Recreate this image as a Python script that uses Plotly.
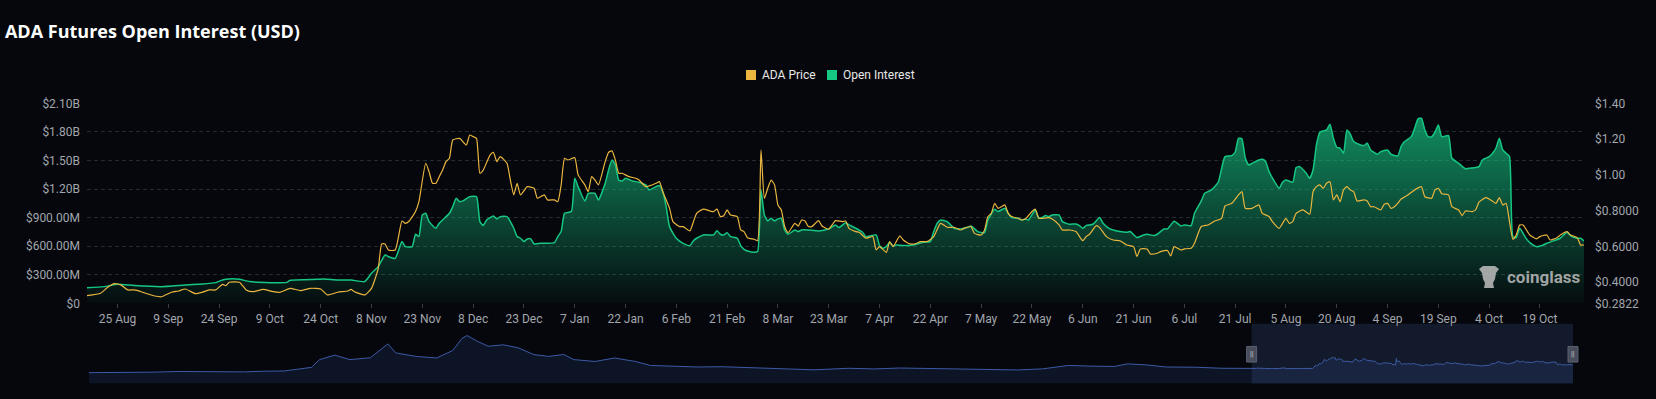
import plotly.graph_objects as go

# ---------------- data ----------------
price_dates = [
    "2024-08-16", "2024-08-20", "2024-08-22", "2024-08-24", "2024-08-26", "2024-08-28", "2024-08-30",
    "2024-09-01", "2024-09-03", "2024-09-05", "2024-09-07", "2024-09-10", "2024-09-12", "2024-09-14",
    "2024-09-17", "2024-09-19", "2024-09-21", "2024-09-23", "2024-09-25", "2024-09-26", "2024-09-27",
    "2024-09-30", "2024-10-02", "2024-10-04", "2024-10-07", "2024-10-10", "2024-10-12", "2024-10-15",
    "2024-10-18", "2024-10-21", "2024-10-24", "2024-10-26", "2024-10-29", "2024-11-01", "2024-11-02",
    "2024-11-03", "2024-11-06", "2024-11-08", "2024-11-10", "2024-11-11", "2024-11-12", "2024-11-13",
    "2024-11-15", "2024-11-17", "2024-11-18", "2024-11-19", "2024-11-21", "2024-11-22", "2024-11-24",
    "2024-11-25", "2024-11-26", "2024-11-27", "2024-11-28", "2024-11-29", "2024-11-30", "2024-12-01",
    "2024-12-02", "2024-12-04", "2024-12-06", "2024-12-07", "2024-12-08", "2024-12-09", "2024-12-10",
    "2024-12-11", "2024-12-13", "2024-12-14", "2024-12-15", "2024-12-16", "2024-12-18", "2024-12-19",
    "2024-12-20", "2024-12-21", "2024-12-22", "2024-12-24", "2024-12-26", "2024-12-27", "2024-12-29",
    "2024-12-30", "2025-01-01", "2025-01-02", "2025-01-03", "2025-01-04", "2025-01-05", "2025-01-07",
    "2025-01-08", "2025-01-10", "2025-01-11", "2025-01-12", "2025-01-13", "2025-01-14", "2025-01-16",
    "2025-01-17", "2025-01-18", "2025-01-19", "2025-01-20", "2025-01-21", "2025-01-23", "2025-01-25",
    "2025-01-26", "2025-01-28", "2025-01-31", "2025-02-01", "2025-02-02", "2025-02-04", "2025-02-05",
    "2025-02-07", "2025-02-08", "2025-02-10", "2025-02-11", "2025-02-12", "2025-02-14", "2025-02-16",
    "2025-02-17", "2025-02-18", "2025-02-19", "2025-02-20", "2025-02-21", "2025-02-22", "2025-02-24",
    "2025-02-25", "2025-02-26", "2025-02-27", "2025-03-01", "2025-03-02", "2025-03-03", "2025-03-04",
    "2025-03-05", "2025-03-06", "2025-03-07", "2025-03-08", "2025-03-09", "2025-03-10", "2025-03-11",
    "2025-03-13", "2025-03-14", "2025-03-15", "2025-03-16", "2025-03-17", "2025-03-18", "2025-03-20",
    "2025-03-21", "2025-03-23", "2025-03-24", "2025-03-25", "2025-03-27", "2025-03-28", "2025-03-29",
    "2025-03-31", "2025-04-01", "2025-04-03", "2025-04-05", "2025-04-06", "2025-04-07", "2025-04-09",
    "2025-04-10", "2025-04-11", "2025-04-13", "2025-04-14", "2025-04-16", "2025-04-18", "2025-04-19",
    "2025-04-21", "2025-04-23", "2025-04-25", "2025-04-27", "2025-04-29", "2025-05-01", "2025-05-02",
    "2025-05-04", "2025-05-05", "2025-05-07", "2025-05-08", "2025-05-09", "2025-05-10", "2025-05-11",
    "2025-05-12", "2025-05-13", "2025-05-14", "2025-05-15", "2025-05-16", "2025-05-18", "2025-05-19",
    "2025-05-20", "2025-05-22", "2025-05-23", "2025-05-24", "2025-05-25", "2025-05-27", "2025-05-28",
    "2025-05-30", "2025-05-31", "2025-06-02", "2025-06-04", "2025-06-06", "2025-06-07", "2025-06-08",
    "2025-06-10", "2025-06-11", "2025-06-13", "2025-06-15", "2025-06-17", "2025-06-19", "2025-06-21",
    "2025-06-22", "2025-06-23", "2025-06-25", "2025-06-26", "2025-06-28", "2025-06-29", "2025-07-01",
    "2025-07-02", "2025-07-03", "2025-07-05", "2025-07-06", "2025-07-08", "2025-07-09", "2025-07-11",
    "2025-07-13", "2025-07-15", "2025-07-17", "2025-07-18", "2025-07-20", "2025-07-22", "2025-07-23",
    "2025-07-24", "2025-07-26", "2025-07-28", "2025-07-29", "2025-07-31", "2025-08-01", "2025-08-03",
    "2025-08-04", "2025-08-05", "2025-08-06", "2025-08-07", "2025-08-08", "2025-08-10", "2025-08-12",
    "2025-08-13", "2025-08-14", "2025-08-15", "2025-08-16", "2025-08-17", "2025-08-18", "2025-08-19",
    "2025-08-20", "2025-08-21", "2025-08-22", "2025-08-23", "2025-08-24", "2025-08-25", "2025-08-26",
    "2025-08-28", "2025-08-29", "2025-08-30", "2025-08-31", "2025-09-02", "2025-09-03", "2025-09-04",
    "2025-09-05", "2025-09-06", "2025-09-07", "2025-09-08", "2025-09-10", "2025-09-12", "2025-09-14",
    "2025-09-15", "2025-09-17", "2025-09-18", "2025-09-19", "2025-09-20", "2025-09-22", "2025-09-23",
    "2025-09-25", "2025-09-26", "2025-09-27", "2025-09-29", "2025-09-30", "2025-10-01", "2025-10-03",
    "2025-10-04", "2025-10-06", "2025-10-07", "2025-10-08", "2025-10-09", "2025-10-10", "2025-10-11",
    "2025-10-12", "2025-10-13", "2025-10-14", "2025-10-16", "2025-10-18", "2025-10-19", "2025-10-21",
    "2025-10-22", "2025-10-24", "2025-10-25", "2025-10-27", "2025-10-28", "2025-10-30", "2025-10-31",
    "2025-11-01",
]
price_values = [
    0.325, 0.338, 0.370, 0.392, 0.385, 0.357, 0.357,
    0.347, 0.334, 0.323, 0.319, 0.344, 0.351, 0.362,
    0.336, 0.344, 0.357, 0.357, 0.388, 0.381, 0.400,
    0.400, 0.357, 0.347, 0.360, 0.347, 0.344, 0.366,
    0.353, 0.366, 0.362, 0.329, 0.344, 0.351, 0.360,
    0.347, 0.329, 0.366, 0.478, 0.614, 0.614, 0.580,
    0.580, 0.742, 0.729, 0.739, 0.795, 0.850, 1.065,
    1.018, 0.953, 0.953, 0.990, 1.027, 1.074, 1.093,
    1.195, 1.204, 1.167, 1.223, 1.214, 1.204, 1.009,
    1.027, 1.111, 1.126, 1.074, 1.102, 1.065, 0.971,
    0.888, 0.953, 0.888, 0.934, 0.925, 0.869, 0.888,
    0.860, 0.860, 0.850, 0.944, 1.093, 1.083, 1.096,
    1.000, 0.944, 0.906, 0.990, 0.971, 0.944, 1.074,
    1.126, 1.134, 1.083, 1.009, 1.009, 0.990, 0.981,
    0.971, 0.934, 0.953, 0.962, 0.906, 0.813, 0.739,
    0.711, 0.711, 0.687, 0.735, 0.785, 0.809, 0.798,
    0.795, 0.809, 0.767, 0.772, 0.804, 0.776, 0.767,
    0.692, 0.683, 0.649, 0.640, 0.632, 1.139, 0.869,
    0.925, 0.971, 0.944, 0.832, 0.804, 0.711, 0.677,
    0.729, 0.714, 0.748, 0.742, 0.711, 0.711, 0.744,
    0.714, 0.696, 0.720, 0.744, 0.739, 0.742, 0.701,
    0.683, 0.679, 0.646, 0.655, 0.580, 0.599, 0.567,
    0.627, 0.599, 0.659, 0.636, 0.614, 0.618, 0.627,
    0.627, 0.655, 0.729, 0.707, 0.707, 0.692, 0.701,
    0.711, 0.673, 0.664, 0.692, 0.767, 0.785, 0.841,
    0.813, 0.822, 0.832, 0.785, 0.767, 0.757, 0.748,
    0.753, 0.795, 0.808, 0.757, 0.757, 0.761, 0.753,
    0.720, 0.692, 0.692, 0.683, 0.632, 0.655, 0.668,
    0.716, 0.705, 0.655, 0.636, 0.632, 0.608, 0.599,
    0.543, 0.586, 0.586, 0.558, 0.562, 0.571, 0.577,
    0.547, 0.599, 0.580, 0.586, 0.590, 0.618, 0.711,
    0.720, 0.742, 0.757, 0.826, 0.841, 0.888, 0.906,
    0.813, 0.813, 0.832, 0.785, 0.767, 0.739, 0.701,
    0.729, 0.757, 0.729, 0.739, 0.785, 0.804, 0.780,
    0.906, 0.934, 0.944, 0.925, 0.953, 0.962, 0.860,
    0.888, 0.850, 0.916, 0.934, 0.916, 0.906, 0.854,
    0.860, 0.854, 0.822, 0.822, 0.804, 0.835, 0.841,
    0.813, 0.822, 0.841, 0.865, 0.888, 0.916, 0.934,
    0.878, 0.869, 0.916, 0.925, 0.895, 0.888, 0.822,
    0.804, 0.772, 0.798, 0.795, 0.804, 0.847, 0.873,
    0.865, 0.841, 0.873, 0.832, 0.841, 0.739, 0.640,
    0.664, 0.720, 0.720, 0.664, 0.642, 0.655, 0.664,
    0.636, 0.649, 0.664, 0.683, 0.664, 0.649, 0.608,
    0.608,
]

oi_dates = [
    "2024-08-16", "2024-08-21", "2024-08-25", "2024-08-30", "2024-09-07", "2024-09-14", "2024-09-19",
    "2024-09-23", "2024-09-25", "2024-09-27", "2024-09-30", "2024-10-03", "2024-10-09", "2024-10-14",
    "2024-10-15", "2024-10-23", "2024-10-25", "2024-10-29", "2024-11-02", "2024-11-06", "2024-11-08",
    "2024-11-10", "2024-11-12", "2024-11-13", "2024-11-15", "2024-11-17", "2024-11-18", "2024-11-20",
    "2024-11-21", "2024-11-22", "2024-11-23", "2024-11-24", "2024-11-25", "2024-11-27", "2024-11-28",
    "2024-11-29", "2024-12-01", "2024-12-02", "2024-12-03", "2024-12-04", "2024-12-05", "2024-12-07",
    "2024-12-09", "2024-12-10", "2024-12-11", "2024-12-12", "2024-12-14", "2024-12-15", "2024-12-16",
    "2024-12-18", "2024-12-20", "2024-12-21", "2024-12-22", "2024-12-23", "2024-12-24", "2024-12-25",
    "2024-12-26", "2024-12-28", "2025-01-01", "2025-01-02", "2025-01-03", "2025-01-04", "2025-01-06",
    "2025-01-07", "2025-01-08", "2025-01-10", "2025-01-11", "2025-01-13", "2025-01-14", "2025-01-16",
    "2025-01-17", "2025-01-18", "2025-01-19", "2025-01-20", "2025-01-21", "2025-01-22", "2025-01-24",
    "2025-01-26", "2025-01-28", "2025-01-29", "2025-01-31", "2025-02-01", "2025-02-02", "2025-02-03",
    "2025-02-04", "2025-02-06", "2025-02-08", "2025-02-10", "2025-02-11", "2025-02-12", "2025-02-14",
    "2025-02-17", "2025-02-18", "2025-02-19", "2025-02-20", "2025-02-21", "2025-02-22", "2025-02-24",
    "2025-02-25", "2025-02-26", "2025-02-27", "2025-03-01", "2025-03-02", "2025-03-03", "2025-03-04",
    "2025-03-05", "2025-03-06", "2025-03-07", "2025-03-08", "2025-03-09", "2025-03-10", "2025-03-11",
    "2025-03-13", "2025-03-14", "2025-03-15", "2025-03-17", "2025-03-20", "2025-03-23", "2025-03-25",
    "2025-03-26", "2025-03-28", "2025-03-29", "2025-03-31", "2025-04-02", "2025-04-03", "2025-04-06",
    "2025-04-07", "2025-04-08", "2025-04-09", "2025-04-10", "2025-04-11", "2025-04-12", "2025-04-14",
    "2025-04-17", "2025-04-20", "2025-04-22", "2025-04-23", "2025-04-24", "2025-04-25", "2025-04-27",
    "2025-04-29", "2025-05-01", "2025-05-03", "2025-05-04", "2025-05-06", "2025-05-08", "2025-05-09",
    "2025-05-11", "2025-05-12", "2025-05-14", "2025-05-15", "2025-05-16", "2025-05-18", "2025-05-19",
    "2025-05-20", "2025-05-21", "2025-05-23", "2025-05-24", "2025-05-25", "2025-05-26", "2025-05-27",
    "2025-05-28", "2025-05-30", "2025-05-31", "2025-06-02", "2025-06-04", "2025-06-05", "2025-06-06",
    "2025-06-07", "2025-06-09", "2025-06-11", "2025-06-12", "2025-06-14", "2025-06-15", "2025-06-17",
    "2025-06-19", "2025-06-20", "2025-06-22", "2025-06-24", "2025-06-25", "2025-06-27", "2025-06-28",
    "2025-06-30", "2025-07-01", "2025-07-03", "2025-07-05", "2025-07-06", "2025-07-08", "2025-07-09",
    "2025-07-11", "2025-07-12", "2025-07-13", "2025-07-14", "2025-07-16", "2025-07-18", "2025-07-20",
    "2025-07-21", "2025-07-22", "2025-07-23", "2025-07-24", "2025-07-25", "2025-07-26", "2025-07-28",
    "2025-07-29", "2025-07-30", "2025-07-31", "2025-08-03", "2025-08-04", "2025-08-05", "2025-08-07",
    "2025-08-08", "2025-08-09", "2025-08-11", "2025-08-12", "2025-08-13", "2025-08-14", "2025-08-15",
    "2025-08-16", "2025-08-17", "2025-08-18", "2025-08-19", "2025-08-20", "2025-08-21", "2025-08-22",
    "2025-08-23", "2025-08-24", "2025-08-25", "2025-08-27", "2025-08-28", "2025-08-29", "2025-08-30",
    "2025-09-01", "2025-09-02", "2025-09-04", "2025-09-05", "2025-09-07", "2025-09-08", "2025-09-09",
    "2025-09-11", "2025-09-12", "2025-09-13", "2025-09-14", "2025-09-15", "2025-09-16", "2025-09-17",
    "2025-09-18", "2025-09-19", "2025-09-20", "2025-09-22", "2025-09-23", "2025-09-25", "2025-09-27",
    "2025-09-28", "2025-09-30", "2025-10-01", "2025-10-02", "2025-10-04", "2025-10-05", "2025-10-06",
    "2025-10-07", "2025-10-08", "2025-10-09", "2025-10-10", "2025-10-11", "2025-10-12", "2025-10-13",
    "2025-10-14", "2025-10-15", "2025-10-16", "2025-10-18", "2025-10-20", "2025-10-21", "2025-10-23",
    "2025-10-25", "2025-10-26", "2025-10-27", "2025-10-28", "2025-10-30", "2025-10-31", "2025-11-01",
]
oi_values_musd = [
    164, 175, 200, 186, 175, 193, 203,
    217, 245, 256, 252, 228, 217, 220,
    242, 252, 256, 245, 245, 228, 315,
    385, 508, 490, 472, 648, 595, 595,
    725, 700, 928, 945, 858, 788, 840,
    875, 945, 1015, 1103, 1068, 1075, 1120,
    1120, 858, 816, 875, 917, 886, 910,
    910, 788, 700, 683, 648, 676, 676,
    623, 630, 637, 700, 753, 945, 963,
    1313, 1225, 1075, 1155, 1155, 1085, 1260,
    1400, 1505, 1453, 1295, 1285, 1313, 1285,
    1270, 1243, 1190, 1225, 1236, 1173, 1015,
    805, 683, 630, 606, 655, 683, 718,
    718, 763, 725, 718, 742, 700, 683,
    606, 567, 550, 536, 543, 1190, 928,
    865, 893, 865, 886, 893, 770, 725,
    770, 753, 770, 770, 760, 781, 823,
    795, 847, 823, 788, 746, 700, 718,
    606, 578, 595, 641, 602, 613, 606,
    613, 641, 648, 753, 840, 875, 858,
    788, 781, 798, 812, 753, 742, 875,
    987, 963, 998, 945, 900, 893, 875,
    886, 875, 980, 900, 900, 921, 910,
    928, 928, 858, 830, 833, 816, 788,
    816, 830, 900, 840, 781, 770, 753,
    746, 753, 690, 718, 725, 711, 725,
    781, 781, 861, 812, 823, 816, 945,
    1075, 1155, 1173, 1190, 1271, 1540, 1551,
    1586, 1733, 1726, 1523, 1453, 1470, 1505,
    1512, 1488, 1383, 1208, 1271, 1295, 1271,
    1425, 1435, 1365, 1313, 1400, 1663, 1796,
    1810, 1820, 1880, 1733, 1638, 1628, 1575,
    1820, 1775, 1698, 1663, 1656, 1680, 1610,
    1565, 1593, 1610, 1565, 1547, 1645, 1698,
    1750, 1838, 1936, 1943, 1820, 1750, 1747,
    1796, 1873, 1750, 1761, 1523, 1470, 1411,
    1418, 1425, 1435, 1505, 1540, 1575, 1628,
    1733, 1610, 1575, 1540, 700, 690, 788,
    735, 676, 637, 595, 613, 630, 655,
    683, 718, 746, 711, 683, 683, 655,
]

# long ADA price history shown in the overview strip (before the main window)
history_dates = [
    "2020-03-31", "2020-05-15", "2020-06-30", "2020-07-31", "2020-09-15", "2020-10-31", "2020-11-25",
    "2020-12-24", "2021-01-15", "2021-01-31", "2021-02-11", "2021-03-04", "2021-03-25", "2021-04-22",
    "2021-05-16", "2021-05-27", "2021-06-24", "2021-07-22", "2021-08-13", "2021-08-26", "2021-09-02",
    "2021-09-16", "2021-10-01", "2021-10-22", "2021-11-11", "2021-12-03", "2021-12-23", "2022-01-13",
    "2022-01-27", "2022-02-25", "2022-03-24", "2022-04-22", "2022-05-12", "2022-06-09", "2022-07-15",
    "2022-08-19", "2022-09-23", "2022-10-28", "2022-12-02", "2022-12-23", "2023-02-09", "2023-03-16",
    "2023-04-20", "2023-06-08", "2023-08-04", "2023-09-29", "2023-11-02", "2023-12-08", "2024-01-05",
    "2024-02-09", "2024-02-27", "2024-03-23", "2024-04-20", "2024-06-01", "2024-07-06",
]
history_prices = [
    0.04, 0.05, 0.08, 0.13, 0.10, 0.10, 0.15,
    0.17, 0.33, 0.45, 1.05, 1.40, 1.05, 1.20,
    2.27, 1.57, 1.30, 1.18, 1.75, 2.70, 2.92,
    2.48, 2.09, 2.20, 1.97, 1.44, 1.30, 1.45,
    1.05, 0.91, 1.18, 0.90, 0.60, 0.55, 0.48,
    0.50, 0.44, 0.38, 0.31, 0.26, 0.38, 0.33,
    0.40, 0.35, 0.30, 0.25, 0.33, 0.60, 0.55,
    0.52, 0.72, 0.65, 0.48, 0.46, 0.38,
]

series_names = ["ADA Price", "Open Interest"]
oi_tickvals = [0, 3e8, 6e8, 9e8, 1.2e9, 1.5e9, 1.8e9, 2.1e9]
oi_ticktext = ["$0", "$300.00M", "$600.00M", "$900.00M", "$1.20B", "$1.50B", "$1.80B", "$2.10B"]
price_tickvals = [0.2822, 0.4, 0.6, 0.8, 1.0, 1.2, 1.4]
price_ticktext = ["$0.2822", "$0.4000", "$0.6000", "$0.8000", "$1.00", "$1.20", "$1.40"]

# ---------------- style ----------------
BG = "#05070c"
GREEN = "#16c784"
YELLOW = "#ebb63f"
GRID = "#262a31"
TICK = "#a2a6ad"
FONT = "Roboto"
W, H = 1656, 399
ML, MR = 87, 67
PW = W - ML - MR


def px_x(px):
    return (px - ML) / PW


def px_y(py):
    return 1 - py / H


oi_values = [v * 1e6 for v in oi_values_musd]
slider_dates = history_dates + price_dates
slider_values = history_prices + price_values
SLIDER_MIN = -0.81

fig = go.Figure()

fig.add_trace(go.Scatter(
    x=oi_dates, y=oi_values, mode="lines", name=series_names[1],
    line=dict(color=GREEN, width=1.5, shape="spline", smoothing=0.5),
    fill="tozeroy",
    fillgradient=dict(type="vertical", start=0, stop=1.95e9,
                      colorscale=[[0, "rgba(22,199,132,0.03)"], [1, "rgba(22,199,132,0.70)"]]),
    showlegend=False, xaxis="x", yaxis="y",
))
fig.add_trace(go.Scatter(
    x=price_dates, y=price_values, mode="lines", name=series_names[0],
    line=dict(color=YELLOW, width=1.2, shape="spline", smoothing=0.5),
    showlegend=False, xaxis="x", yaxis="y2",
))

# overview strip
fig.add_trace(go.Scatter(
    x=[slider_dates[0], slider_dates[-1]], y=[SLIDER_MIN, SLIDER_MIN], mode="lines",
    line=dict(width=0, color="rgba(0,0,0,0)"), showlegend=False, hoverinfo="skip",
    xaxis="x2", yaxis="y3",
))
fig.add_trace(go.Scatter(
    x=slider_dates, y=slider_values, mode="lines", fill="tonexty", fillcolor="#0d1426",
    line=dict(color="#3c5aa6", width=1), showlegend=False, hoverinfo="skip",
    xaxis="x2", yaxis="y3",
))

sel_start, sel_end = price_dates[0], price_dates[-1]
shapes = [
    dict(type="rect", xref="x2", yref="y3 domain", x0=sel_start, x1=sel_end, y0=0, y1=1,
         fillcolor="rgba(70,95,160,0.22)", line=dict(width=0), layer="above"),
]
annotations = []
for d in (sel_start, sel_end):
    shapes.append(dict(type="rect", xref="x2", yref="y3 domain", xsizemode="pixel", xanchor=d,
                       x0=-5, x1=5, y0=0.36, y1=0.62, fillcolor="#474d5b",
                       line=dict(color="#5b6172", width=1), layer="above"))
    annotations.append(dict(xref="x2", yref="y3 domain", x=d, y=0.49, text="||", showarrow=False,
                            font=dict(size=7, color="#d0d4da", family=FONT)))

# legend (square swatch + label)
for name, color, sq_left, txt_left in ((series_names[0], YELLOW, 746, 760),
                                        (series_names[1], GREEN, 827, 841)):
    shapes.append(dict(type="rect", xref="paper", yref="paper",
                       x0=px_x(sq_left), x1=px_x(sq_left + 10), y0=px_y(80), y1=px_y(70),
                       fillcolor=color, line=dict(width=0)))
    annotations.append(dict(xref="paper", yref="paper", x=px_x(txt_left), y=px_y(75),
                            xanchor="left", yanchor="middle", text=name, showarrow=False,
                            font=dict(size=12, color="#e8e8e8", family=FONT)))

# watermark
shapes.append(dict(type="path", xref="paper", yref="paper", xsizemode="pixel", ysizemode="pixel",
                   xanchor=px_x(1489), yanchor=px_y(277),
                   path="M -10 8 L -6 11 L 6 11 L 10 8 L 7 4 L 6 -2 L 4 -6 L 5 -11 L -5 -11 L -4 -6 L -6 -2 L -7 4 Z",
                   fillcolor="rgba(190,190,190,0.85)", line=dict(width=0), layer="above"))
annotations.append(dict(xref="paper", yref="paper", x=px_x(1505), y=px_y(277),
                        xanchor="left", yanchor="middle", text="<b>coinglass</b>", showarrow=False,
                        font=dict(size=17, color="rgba(190,190,190,0.85)", family=FONT)))

fig.update_layout(
    width=W, height=H, autosize=False,
    paper_bgcolor=BG, plot_bgcolor=BG,
    margin=dict(l=ML, r=MR, t=0, b=0, autoexpand=False),
    font=dict(family=FONT, size=12, color=TICK),
    showlegend=False,
    title=dict(text="<b>ADA Futures Open Interest (USD)</b>", x=0.003, xanchor="left",
               xref="container", y=1 - 32 / H, yref="container", yanchor="middle",
               font=dict(family="Open Sans", size=18, color="#ffffff")),
    xaxis=dict(domain=[0, 1497 / PW], anchor="y", type="date",
               range=[price_dates[0], price_dates[-1]],
               tick0="2024-08-25", dtick=15 * 86400000, tickformat="%-d %b",
               showgrid=False, zeroline=False, showline=False,
               ticks="outside", ticklen=4, tickcolor="#3a3f48", tickfont=dict(size=12, color=TICK)),
    yaxis=dict(domain=[px_y(303.3), px_y(103.3)], anchor="x", range=[0, 2.1e9],
               tickvals=oi_tickvals, ticktext=oi_ticktext, showgrid=True, gridcolor=GRID,
               griddash="4px,3px", gridwidth=1, zeroline=False, showline=False,
               ticks="", ticklabelstandoff=6, tickfont=dict(size=12, color=TICK)),
    yaxis2=dict(overlaying="y", side="right", anchor="x", range=[0.2822, 1.4],
                tickvals=price_tickvals, ticktext=price_ticktext, showgrid=False, zeroline=False,
                showline=False, ticks="", ticklabelstandoff=10, tickfont=dict(size=12, color=TICK)),
    xaxis2=dict(domain=[2 / PW, 1], anchor="y3", type="date",
                range=[slider_dates[0], "2025-11-23"], visible=False),
    yaxis3=dict(domain=[px_y(383.6), px_y(323.7)], anchor="x2", range=[SLIDER_MIN, 3.84],
                visible=False),
    shapes=shapes,
    annotations=annotations,
    hovermode=False,
)

fig.write_html("out.html", include_plotlyjs=True, full_html=True,
               config={"displayModeBar": False, "responsive": False},
               post_script="document.body.style.margin='0';document.body.style.overflow='hidden';")
